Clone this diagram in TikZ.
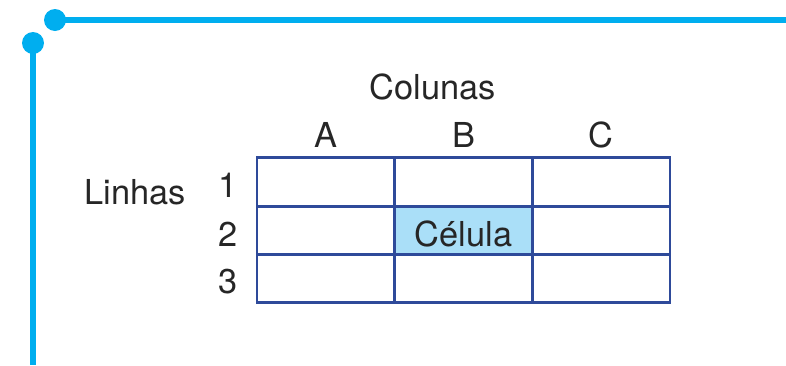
\documentclass[tikz,border=0pt]{standalone}
\usepackage{fontspec}
\setmainfont{TeX Gyre Heros}
\usetikzlibrary{positioning}

\definecolor{railblue}{HTML}{00AEEF}
\definecolor{gridblue}{HTML}{2E4A9A}
\definecolor{cellfill}{HTML}{AADFF8}

\begin{document}
\begin{tikzpicture}[
    x=1bp, y=-1bp,
    font=\fontsize{34.5}{41}\selectfont,
    rail/.style={draw=railblue, line width=5.5bp},
    dot/.style={circle, fill=railblue, inner sep=0pt, minimum size=22bp},
    cell/.style={rectangle, draw=gridblue, line width=2.8bp, minimum width=137.7bp, minimum height=48.3bp, inner sep=0pt},
    txt/.style={inner sep=0pt, text=black!85}
]
\useasboundingbox (0,0) rectangle (786,365);

% Corner rails
\node[dot] (topdot) at (55,20) {};
\node[dot] (leftdot) at (33,43) {};
\coordinate (topend) at (786,20);
\coordinate (leftend) at (33,365);
\draw[rail] (topdot.center) -- (topend);
\draw[rail] (leftdot.center) -- (leftend);

% Grid of cells
\foreach \col [count=\i from 0] in {a,b,c}
  \foreach \row in {1,2,3}
    \node[cell] (\col\row) at (325.8+137.7*\i, 182+48.3*\row-48.3) {};
\node[cell, fill=cellfill] (b2) at (b2) {};
\node[txt, anchor=base] (cellname) at (463.5,246) {Célula};

% Headers
\node[txt] (colunas) at (433,87) {Colunas};
\node[txt] (hA) at (325.8,135) {A};
\node[txt] (hB) at (463.5,135) {B};
\node[txt] (hC) at (601.2,135) {C};
\node[txt] (linhas) at (135,192) {Linhas};
\node[txt] (r1) at (228,185) {1};
\node[txt] (r2) at (228,234) {2};
\node[txt] (r3) at (228,282) {3};

\end{tikzpicture}
\end{document}
